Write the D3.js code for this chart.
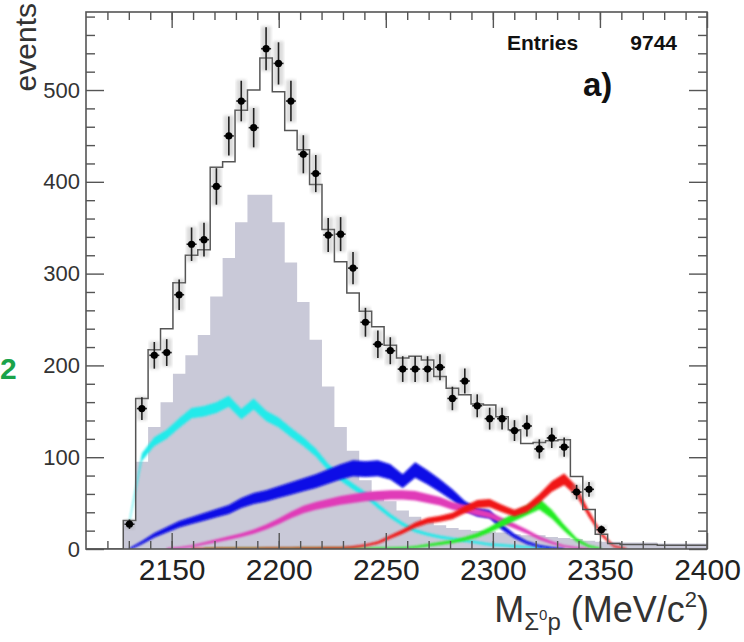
<!DOCTYPE html>
<html><head><meta charset="utf-8">
<script src="https://cdn.jsdelivr.net/npm/d3@7"></script>
<style>body{margin:0;background:#fff}svg{display:block}text{font-family:"Liberation Sans",Arial,Helvetica,sans-serif}</style>
</head><body>
<script>
// ---- data ----
const xMin = 2110, xMax = 2400, binW = 5.8;
const binLow = d3.range(50).map(i => +(xMin + binW * i).toFixed(1));
const dataCounts = [null,null,null,27,153,211,214,277,332,337,395,450,488,459,545,529,488,430,409,342,343,306,247,223,216,196,196,196,198,164,183,156,142,142,129,134,109,121,111,62,65,21,null,null,null,null,null,null,null,null];
const fitTotal = [0,0,0,31,164,217,240,290,320,326,416,422,478,500,535,498,456,435,397,348,313,279,259,242,222,208,210,206,188,175,168,158,157,144,130,115,116,118,119,79,43,16,6,5,5,5,4,4,4,4];
const greyHist = [0,0,0,30,95,133,160,191,211,233,275,317,356,386,386,356,312,269,228,177,133,107,75,62,52,42,35,30,26,23,21,20,19,18,16,15,15,13,12,11,9,8,8,7,7,7,6,6,6,6];
const cyanComp = [null,null,null,30,100,117,125,137,148,150,154,161,147,158,145,138,127,117,105,89,78,68,59,47,36,27,20,16,13,11,9,7,5,4,3,2,1,0,null,null,null,null,null,null,null,null,null,null,null,null];
const blueComp = [null,null,null,0,7,15,21,27,31,35,39,43,50,55,58,62,66,70,74,79,84,88,87,88,84,74,86,78,69,59,47,40,38,24,14,7,3,1,0,null,null,null,null,null,null,null,null,null,null,null];
const magentaComp = [null,null,null,null,null,null,0,1,3,6,9,12,15,19,24,30,37,43,47,50,53,55,57,58,59,59,58,55,52,47,44,40,37,31,25,19,12,7,3,1,0,null,null,null,null,null,null,null,null,null];
const redComp = [null,null,null,null,null,null,null,null,0,0.2,0.3,0.3,0.4,0.4,0.5,0.6,0.7,0.8,0.9,1,1,2,4,7,13,19,26,31,33,36,43,49,50,44,39,44,55,68,76,63,38,16,3,0,null,null,null,null,null,null];
const greenComp = [null,null,null,null,null,null,null,null,null,0,0.2,0.3,0.3,0.3,0.4,0.4,0.4,0.5,0.5,0.5,0.6,0.6,0.7,0.8,0.9,1,2,4,6,8,11,15,21,28,35,42,49,38,23,10,3,0,null,null,null,null,null,null,null,null];
const yMajor = [0,100,200,300,400,500];
const xMajor = [2150,2200,2250,2300,2350,2400];
const entries = "9744";

// ---- layout ----
const W = 744, H = 642;
const L = 86, R = 707, T = 12, B = 549;
const x = d3.scaleLinear().domain([xMin, xMax]).range([L, R]);
const y = d3.scaleLinear().domain([0, 585]).range([B, T]);
const svg = d3.select("body").append("svg").attr("width", W).attr("height", H);
const defs = svg.append("defs");
defs.append("clipPath").attr("id","clip").append("rect").attr("x",L).attr("y",T).attr("width",R-L).attr("height",B-T);
defs.append("filter").attr("id","soft").append("feGaussianBlur").attr("stdDeviation",0.8);
defs.append("filter").attr("id","soft2").append("feGaussianBlur").attr("stdDeviation",1.5);

const plot = svg.append("g").attr("clip-path","url(#clip)");

// grey histogram
const greyPts = binLow.map((b,i)=>({x:b, v:greyHist[i]}));
greyPts.push({x:xMax, v:greyHist[greyHist.length-1]});
plot.append("path").datum(greyPts)
  .attr("d", d3.area().curve(d3.curveStepAfter).x(d=>x(d.x)).y0(y(0)).y1(d=>y(d.v)))
  .attr("fill","#c9c9d8");

// component bands
const comps = [
  {vals: cyanComp, color:"#22eaea", base:1.2, frac:0.03},
  {vals: blueComp, color:"#0808e6", base:1.2, frac:0.085},
  {vals: magentaComp, color:"#e03ab8", base:1.0, frac:0.07},
  {vals: greenComp, color:"#22ec22", base:1.0, frac:0.1},
  {vals: redComp, color:"#f01818", base:1.0, frac:0.07}
];
comps.forEach(c=>{
  const pts = binLow.map((b,i)=>({x:b+binW/2, v:c.vals[i]})).filter(d=>d.v!==null);
  const hw = v => c.base + c.frac*v;
  plot.append("path").datum(pts)
    .attr("d", d3.area().x(d=>x(d.x)).y0(d=>y(d.v-hw(d.v))).y1(d=>y(d.v+hw(d.v))))
    .attr("fill", c.color).attr("filter","url(#soft)");
});

// total fit outline
const fitPts = binLow.map((b,i)=>({x:b, v:fitTotal[i]}));
fitPts.push({x:xMax, v:fitTotal[fitTotal.length-1]});
plot.append("path").datum(fitPts)
  .attr("d", d3.line().curve(d3.curveStepAfter).x(d=>x(d.x)).y(d=>y(d.v)))
  .attr("fill","none").attr("stroke","#555").attr("stroke-width",1.5);

// data points
const dpts = binLow.map((b,i)=>({x:b+binW/2, v:dataCounts[i]})).filter(d=>d.v!==null);
const dg = svg.append("g");
dg.selectAll("rect.sys").data(dpts).join("rect")
  .attr("x", d=>x(d.x)-5).attr("width",10)
  .attr("y", d=>y(d.v+Math.sqrt(d.v)*1.05)).attr("height", d=>y(d.v-Math.sqrt(d.v)*1.05)-y(d.v+Math.sqrt(d.v)*1.05))
  .attr("fill","#999").attr("opacity",0.35).attr("filter","url(#soft2)");
dg.selectAll("line.ey").data(dpts).join("line")
  .attr("x1", d=>x(d.x)).attr("x2", d=>x(d.x))
  .attr("y1", d=>y(d.v+Math.sqrt(d.v))).attr("y2", d=>y(Math.max(0,d.v-Math.sqrt(d.v))))
  .attr("stroke","#222").attr("stroke-width",1.6);
dg.selectAll("line.ex").data(dpts).join("line")
  .attr("x1", d=>x(d.x)-5).attr("x2", d=>x(d.x)+5)
  .attr("y1", d=>y(d.v)).attr("y2", d=>y(d.v))
  .attr("stroke","#222").attr("stroke-width",1.6);
dg.selectAll("circle").data(dpts).join("circle")
  .attr("cx", d=>x(d.x)).attr("cy", d=>y(d.v)).attr("r",3.6).attr("fill","#000");

// axes
const tickCol = "#555";
function styleAxis(g){ g.select(".domain").remove(); g.selectAll("line").attr("stroke",tickCol).attr("stroke-width",1.4); }
const xMinor = d3.range(2120, 2400, 10);
const yMinor = d3.range(20, 585, 20).filter(v=>v%100!==0);
svg.append("g").attr("transform",`translate(0,${B})`).call(d3.axisBottom(x).tickValues(xMinor).tickSize(-8).tickFormat("")).call(styleAxis);
svg.append("g").attr("transform",`translate(0,${T})`).call(d3.axisTop(x).tickValues(xMinor).tickSize(-8).tickFormat("")).call(styleAxis);
svg.append("g").attr("transform",`translate(0,${T})`).call(d3.axisTop(x).tickValues(xMajor).tickSize(-16).tickFormat("")).call(styleAxis);
const gxb = svg.append("g").attr("transform",`translate(0,${B})`).call(d3.axisBottom(x).tickValues(xMajor).tickSize(-16).tickPadding(10).tickFormat(d3.format("d"))).call(styleAxis);
gxb.selectAll("text").attr("font-size",30).attr("fill","#222").style("font-family","'Liberation Sans',Arial,sans-serif");

svg.append("g").attr("transform",`translate(${L},0)`).call(d3.axisLeft(y).tickValues(yMinor).tickSize(-9).tickFormat("")).call(styleAxis);
svg.append("g").attr("transform",`translate(${R},0)`).call(d3.axisRight(y).tickValues(yMinor).tickSize(-9).tickFormat("")).call(styleAxis);
svg.append("g").attr("transform",`translate(${R},0)`).call(d3.axisRight(y).tickValues(yMajor).tickSize(-18).tickFormat("")).call(styleAxis);
const gyl = svg.append("g").attr("transform",`translate(${L},0)`).call(d3.axisLeft(y).tickValues(yMajor).tickSize(-18).tickPadding(6).tickFormat(d3.format("d"))).call(styleAxis);
gyl.selectAll("text").attr("font-size",22).attr("fill","#333").style("font-family","'Liberation Sans',Arial,sans-serif");

// frame
svg.append("rect").attr("x",L).attr("y",T).attr("width",R-L).attr("height",B-T)
  .attr("fill","none").attr("stroke","#555").attr("stroke-width",1.6);

// texts
svg.append("text").attr("transform","translate(36,3) rotate(-90)").attr("text-anchor","end")
  .attr("font-size",30).attr("fill","#333").text("events");
svg.append("text").attr("x",507).attr("y",50).attr("font-size",21).attr("font-weight","bold").attr("fill","#111").text("Entries");
svg.append("text").attr("x",677).attr("y",50).attr("text-anchor","end").attr("font-size",21).attr("font-weight","bold").attr("fill","#111").text(entries);
svg.append("text").attr("x",583).attr("y",96).attr("font-size",33).attr("font-weight","bold").attr("fill","#111").text("a)");
svg.append("text").attr("x",0).attr("y",379).attr("font-size",30).attr("font-weight","bold").attr("fill","#1aa34a").text("2");

const tt = svg.append("text").attr("x",709).attr("y",622).attr("text-anchor","end").attr("font-size",36).attr("fill","#333");
tt.append("tspan").text("M");
tt.append("tspan").attr("dy",8).attr("font-size",24).text("Σ");
tt.append("tspan").attr("dy",-10).attr("font-size",15).text("0");
tt.append("tspan").attr("dy",10).attr("font-size",24).text("p");
tt.append("tspan").attr("dy",-8).attr("font-size",36).text(" (MeV/c");
tt.append("tspan").attr("dy",-15).attr("font-size",22).text("2");
tt.append("tspan").attr("dy",15).attr("font-size",36).text(")");
</script>
</body></html>
